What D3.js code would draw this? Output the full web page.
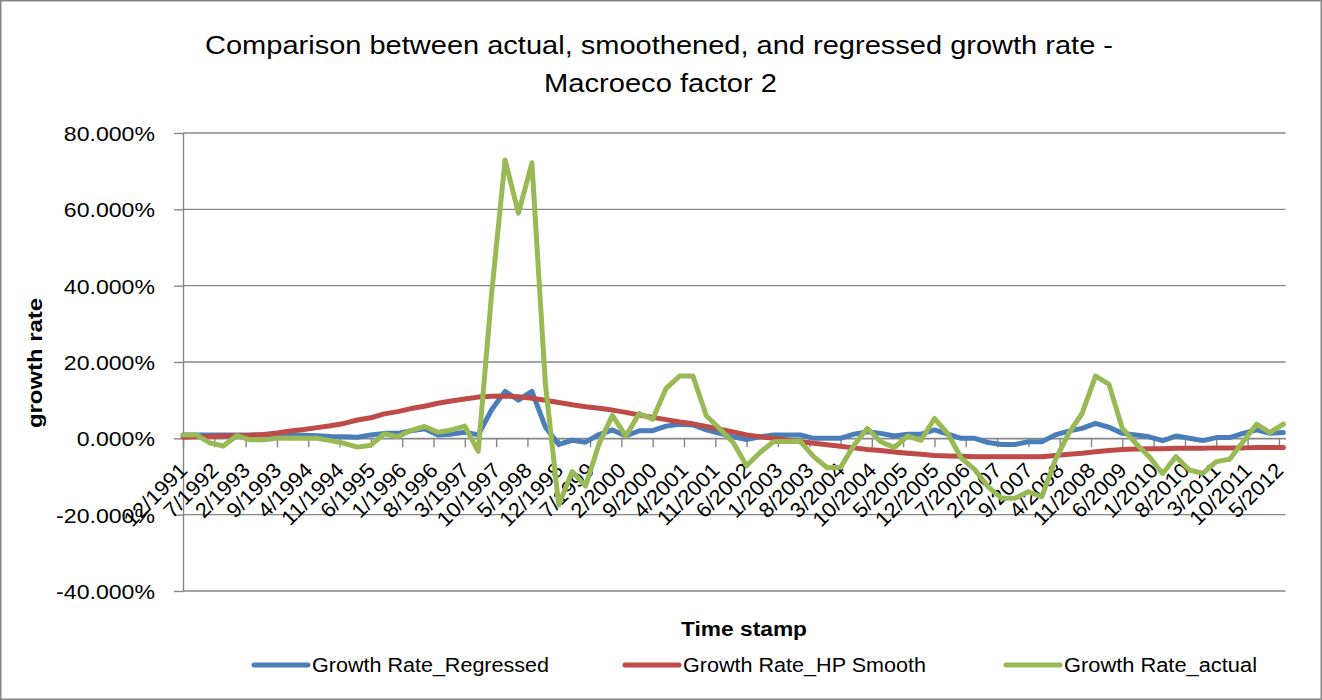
<!DOCTYPE html>
<html>
<head>
<meta charset="utf-8">
<script src="https://cdn.jsdelivr.net/npm/d3@7"></script>
<style>
  body { margin: 0; background: #fff; }
  svg { display: block; }
  text { font-family: "Liberation Sans", Arial, sans-serif; fill: #000; }
</style>
</head>
<body>
<svg id="chart" width="1322" height="700"></svg>
<script>
// Quarterly observation dates (M/YYYY)
const quarters = [
  "12/1991",
  "3/1992","6/1992","9/1992","12/1992",
  "3/1993","6/1993","9/1993","12/1993",
  "3/1994","6/1994","9/1994","12/1994",
  "3/1995","6/1995","9/1995","12/1995",
  "3/1996","6/1996","9/1996","12/1996",
  "3/1997","6/1997","9/1997","12/1997",
  "3/1998","6/1998","9/1998","12/1998",
  "3/1999","6/1999","9/1999","12/1999",
  "3/2000","6/2000","9/2000","12/2000",
  "3/2001","6/2001","9/2001","12/2001",
  "3/2002","6/2002","9/2002","12/2002",
  "3/2003","6/2003","9/2003","12/2003",
  "3/2004","6/2004","9/2004","12/2004",
  "3/2005","6/2005","9/2005","12/2005",
  "3/2006","6/2006","9/2006","12/2006",
  "3/2007","6/2007","9/2007","12/2007",
  "3/2008","6/2008","9/2008","12/2008",
  "3/2009","6/2009","9/2009","12/2009",
  "3/2010","6/2010","9/2010","12/2010",
  "3/2011","6/2011","9/2011","12/2011",
  "3/2012","6/2012"
];

// Growth rates in percent
const regressed = [
  0.9, 0.9, 0.9, 0.9, 0.9, 0.9, 0.9, 0.9, 0.9, 0.8,
  0.7, 0.5, 0.4, 0.3, 0.9, 1.3, 1.3, 2.0, 2.5, 0.9,
  1.1, 1.6, 0.9, 7.5, 12.3, 10.0, 12.3, 3.0, -1.6, -0.5,
  -1.0, 1.0, 2.2, 0.6, 2.0, 2.0, 3.2, 3.7, 3.5, 2.2,
  1.3, 0.4, -0.3, 0.4, 0.9, 0.9, 0.9, 0.0, 0.0, 0.0,
  1.1, 1.7, 1.3, 0.6, 1.1, 1.1, 2.2, 1.1, 0.0, 0.0,
  -1.1, -1.6, -1.6, -0.9, -0.9, 0.9, 1.9, 2.6, 3.9, 2.9,
  1.3, 0.9, 0.4, -0.6, 0.6, 0.0, -0.6, 0.2, 0.2, 1.3,
  2.2, 1.3, 1.5
];

const hpSmooth = [
  0.3, 0.4, 0.5, 0.6, 0.7, 0.8, 1.0, 1.4, 1.9, 2.3,
  2.8, 3.3, 3.9, 4.8, 5.4, 6.4, 7.0, 7.8, 8.4, 9.2,
  9.8, 10.3, 10.8, 11.0, 11.1, 10.9, 10.5, 10.0, 9.4, 8.8,
  8.3, 7.9, 7.4, 6.8, 6.1, 5.5, 4.9, 4.3, 3.8, 3.1,
  2.4, 1.7, 0.9, 0.4, 0.0, -0.4, -0.9, -1.3, -1.7, -2.1,
  -2.5, -2.9, -3.2, -3.6, -3.9, -4.2, -4.5, -4.6, -4.7, -4.8,
  -4.8, -4.8, -4.8, -4.8, -4.8, -4.5, -4.2, -3.9, -3.5, -3.2,
  -2.9, -2.8, -2.7, -2.7, -2.6, -2.6, -2.6, -2.5, -2.5, -2.5,
  -2.4, -2.4, -2.4
];

const actual = [
  0.9, 0.9, -1.2, -2.0, 0.7, -0.4, -0.4, 0.0, 0.0, 0.0,
  0.0, -0.6, -1.3, -2.3, -1.8, 1.2, 0.4, 2.1, 3.1, 1.6,
  2.2, 3.2, -3.4, 38.0, 72.9, 59.0, 72.2, 14.5, -17.5, -8.7,
  -12.5, -1.5, 6.0, 0.6, 6.5, 5.0, 13.1, 16.3, 16.3, 5.9,
  2.5, -1.1, -7.2, -3.7, -0.9, -0.8, -0.8, -4.8, -7.7, -7.6,
  -1.8, 2.6, -0.9, -2.4, 0.6, -0.5, 5.2, 1.2, -5.2, -8.2,
  -12.7, -15.7, -15.7, -14.0, -15.3, -5.7, 1.3, 6.5, 16.3, 14.2,
  2.6, -1.3, -4.8, -9.2, -4.8, -8.3, -9.2, -6.1, -5.5, -0.9,
  3.7, 1.5, 3.7
];

// Date-axis labels (every seven months)
const xTickLabels = [
  "12/1991","7/1992","2/1993","9/1993","4/1994","11/1994","6/1995","1/1996",
  "8/1996","3/1997","10/1997","5/1998","12/1998","7/1999","2/2000","9/2000",
  "4/2001","11/2001","6/2002","1/2003","8/2003","3/2004","10/2004","5/2005",
  "12/2005","7/2006","2/2007","9/2007","4/2008","11/2008","6/2009","1/2010",
  "8/2010","3/2011","10/2011","5/2012"
];

const yTickValues = [-40, -20, 0, 20, 40, 60, 80];
const yTickLabels = ["-40.000%","-20.000%","0.000%","20.000%","40.000%","60.000%","80.000%"];

const seriesNames = ["Growth Rate_Regressed", "Growth Rate_HP Smooth", "Growth Rate_actual"];
const seriesColors = ["#4A7EBB", "#BE4B48", "#98B954"];
const seriesValues = [regressed, hpSmooth, actual];

const titleLines = [
  "Comparison between actual, smoothened, and regressed growth rate -",
  "Macroeco factor 2"
];

// months elapsed since Dec 1991
function monthIndex(label) {
  const [m, yr] = label.split("/").map(Number);
  return (yr - 1991) * 12 + (m - 12);
}

// widen a text element horizontally by a factor
function widen(sel, factor) {
  sel.each(function () {
    const w = this.getComputedTextLength();
    d3.select(this).attr("textLength", w * factor).attr("lengthAdjust", "spacingAndGlyphs");
  });
}

const svg = d3.select("#chart");
const plotLeft = 183, plotRight = 1285.6, plotTop = 133, plotBottom = 591;

const x = d3.scaleLinear().domain([0, 246.5]).range([plotLeft, plotRight]);
const y = d3.scaleLinear().domain([-40, 80]).range([plotBottom, plotTop]);

// outer chart border
svg.append("rect")
  .attr("x", 0.75).attr("y", 0.75)
  .attr("width", 1320.5).attr("height", 698.5)
  .attr("fill", "#fff").attr("stroke", "#868686").attr("stroke-width", 1.5);

// title
svg.append("text").attr("x", 659).attr("y", 54).attr("text-anchor", "middle")
  .attr("font-size", 25).attr("textLength", 908).attr("lengthAdjust", "spacingAndGlyphs")
  .text(titleLines[0]);
svg.append("text").attr("x", 660.5).attr("y", 92).attr("text-anchor", "middle")
  .attr("font-size", 25).attr("textLength", 233).attr("lengthAdjust", "spacingAndGlyphs")
  .text(titleLines[1]);

// horizontal gridlines
svg.append("g").selectAll("line").data(yTickValues).join("line")
  .attr("x1", plotLeft).attr("x2", plotRight)
  .attr("y1", d => y(d)).attr("y2", d => y(d))
  .attr("stroke", "#868686").attr("stroke-width", 1.4);

// y axis
const yAxis = svg.append("g").attr("transform", `translate(${plotLeft},0)`)
  .call(d3.axisLeft(y).tickValues(yTickValues)
    .tickFormat((d, i) => yTickLabels[i]).tickSize(9).tickSizeOuter(0).tickPadding(19));
yAxis.attr("font-family", null).attr("font-size", null);
yAxis.select(".domain").attr("stroke", "#868686").attr("stroke-width", 1.4);
yAxis.selectAll(".tick line").attr("stroke", "#868686").attr("stroke-width", 1.4);
yAxis.selectAll(".tick text").attr("font-size", 21).attr("dy", "0.36em").call(widen, 1.1);

// x axis at the zero line
const xAxis = svg.append("g").attr("transform", `translate(0,${y(0)})`)
  .call(d3.axisBottom(x).tickValues(xTickLabels.map(monthIndex))
    .tickFormat((d, i) => xTickLabels[i]).tickSize(9).tickSizeOuter(0));
xAxis.attr("font-family", null).attr("font-size", null);
xAxis.select(".domain").attr("stroke", "#868686").attr("stroke-width", 1.4);
xAxis.selectAll(".tick line").attr("stroke", "#868686").attr("stroke-width", 1.4);
xAxis.selectAll(".tick text")
  .attr("font-size", 21)
  .attr("y", 0).attr("dy", "0.35em")
  .attr("text-anchor", "end")
  .attr("transform", "translate(0,28) rotate(-45)")
  .call(widen, 1.05);

// axis titles
svg.append("text")
  .attr("transform", "translate(42,363) rotate(-90)")
  .attr("text-anchor", "middle").attr("font-weight", "bold").attr("font-size", 20)
  .attr("textLength", 130).attr("lengthAdjust", "spacingAndGlyphs")
  .text("growth rate");
svg.append("text")
  .attr("x", 744).attr("y", 636).attr("text-anchor", "middle")
  .attr("font-weight", "bold").attr("font-size", 20)
  .attr("textLength", 126).attr("lengthAdjust", "spacingAndGlyphs")
  .text("Time stamp");

// series lines
const line = d3.line()
  .x((d, i) => x(monthIndex(quarters[i])))
  .y(d => y(d));

svg.append("g").selectAll("path").data(seriesValues).join("path")
  .attr("d", d => line(d))
  .attr("fill", "none")
  .attr("stroke", (d, i) => seriesColors[i])
  .attr("stroke-width", 5)
  .attr("stroke-linejoin", "round")
  .attr("stroke-linecap", "round");

// legend
const legendSwatchX = [254, 625, 1006];
const legendTextWidth = [237, 243, 193];
const legend = svg.append("g").selectAll("g").data(seriesNames).join("g")
  .attr("transform", (d, i) => `translate(${legendSwatchX[i]},665)`);
legend.append("line")
  .attr("x1", 0).attr("x2", 54).attr("y1", 0).attr("y2", 0)
  .attr("stroke", (d, i) => seriesColors[i]).attr("stroke-width", 5)
  .attr("stroke-linecap", "round");
legend.append("text")
  .attr("x", 58).attr("y", 7).attr("font-size", 20)
  .attr("textLength", (d, i) => legendTextWidth[i]).attr("lengthAdjust", "spacingAndGlyphs")
  .text(d => d);
</script>
</body>
</html>
